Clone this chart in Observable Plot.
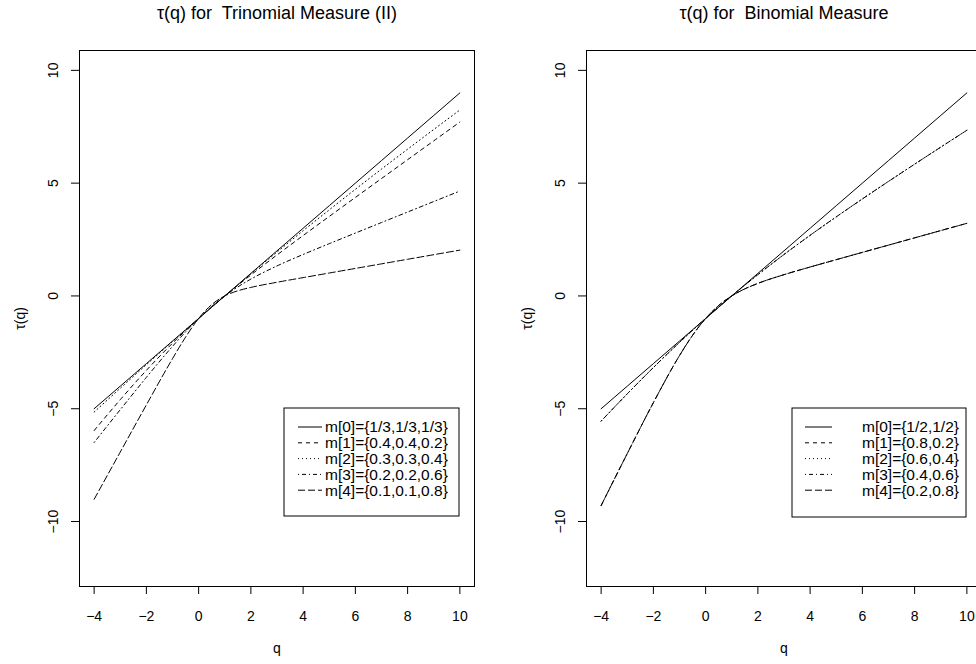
<!DOCTYPE html>
<html><head><meta charset="utf-8">
<script src="https://cdn.jsdelivr.net/npm/d3@7"></script>
<script src="https://cdn.jsdelivr.net/npm/@observablehq/plot@0.6"></script>
<style>
body{margin:0;background:#fff;overflow:hidden;}
#chart{position:relative;width:976px;height:664px;overflow:hidden;background:#fff;}
#chart svg{position:absolute;top:0;}
</style></head><body><div id="chart"></div>
<script>
// q grid
const q = [-4,-3,-2,-1,-0.5,0,0.5,1,1.5,2,3,4,5,6,7,8,9,10];

// Trinomial measure (II)
const tri0 = [-5,-4,-3,-2,-1.5,-1,-0.5,0,0.5,1,2,3,4,5,6,7,8,9];
const tri1 = [-5.967,-4.598,-3.299,-2.096,-1.535,-1,-0.490,0,0.472,0.930,1.816,2.677,3.525,4.366,5.204,6.040,6.875,7.709];
const tri2 = [-5.148,-4.093,-3.048,-2.017,-1.506,-1,-0.498,0,0.493,0.982,1.945,2.890,3.817,4.727,5.623,6.506,7.379,8.243];
const tri3 = [-6.496,-5.043,-3.610,-2.236,-1.594,-1,-0.466,0,0.401,0.747,1.330,1.838,2.317,2.787,3.254,3.720,4.185,4.650];
const tri4 = [-9.015,-6.920,-4.830,-2.782,-1.827,-1,-0.385,0,0.228,0.378,0.606,0.812,1.016,1.219,1.422,1.625,1.828,2.031];
const triNames = ["m[0]={1/3,1/3,1/3}","m[1]={0.4,0.4,0.2}","m[2]={0.3,0.3,0.4}","m[3]={0.2,0.2,0.6}","m[4]={0.1,0.1,0.8}"];

// Binomial measure
const bin0 = [-5,-4,-3,-2,-1.5,-1,-0.5,0,0.5,1,2,3,4,5,6,7,8,9];
const bin1 = [-9.293,-6.988,-4.731,-2.644,-1.746,-1,-0.424,0,0.313,0.556,0.943,1.282,1.608,1.931,2.253,2.575,2.897,3.219];
const bin2 = [-5.548,-4.340,-3.174,-2.059,-1.522,-1,-0.493,0,0.479,0.943,1.837,2.688,3.506,4.300,5.077,5.841,6.596,7.345];
const bin3 = [-5.548,-4.340,-3.174,-2.059,-1.522,-1,-0.493,0,0.479,0.943,1.837,2.688,3.506,4.300,5.077,5.841,6.596,7.345];
const bin4 = [-9.293,-6.988,-4.731,-2.644,-1.746,-1,-0.424,0,0.313,0.556,0.943,1.282,1.608,1.931,2.253,2.575,2.897,3.219];
const binNames = ["m[0]={1/2,1/2}","m[1]={0.8,0.2}","m[2]={0.6,0.4}","m[3]={0.4,0.6}","m[4]={0.2,0.8}"];

const titles = ["\u03c4(q) for  Trinomial Measure (II)", "\u03c4(q) for  Binomial Measure"];
const xTicks = [-4,-2,0,2,4,6,8,10];
const yTicks = [-10,-5,0,5,10];
const xLabel = "q";
const yLabel = "\u03c4(q)";

const dashes = ["none","4,4","1,3","1,3,4,3","7,3"];
const FONT = "'Liberation Sans', Arial, Helvetica, sans-serif";
const fmt = d => d < 0 ? "\u2212" + (-d) : String(d);

function panel({title, series, names, width, left, marginLeft, marginRight, legend}) {
  const H = 664, MT = 50, MB = 78;
  const marks = [
    Plot.frame({stroke: "black", strokeWidth: 1}),
    Plot.axisX({ticks: xTicks, tickSize: 8, tickPadding: 17, tickFormat: fmt, label: null, fontSize: 14}),
    Plot.axisY({ticks: yTicks, tickSize: 8, tickFormat: () => "", label: null}),
    Plot.text(yTicks, {y: d => d, frameAnchor: "left", dx: -26, rotate: -90, text: d => fmt(d),
      fontSize: 14, textAnchor: "middle", lineAnchor: "middle"}),
    ...series.map((vals, k) => Plot.line(q.map((x, i) => ({q: x, tau: vals[i]})), {
      x: "q", y: "tau", stroke: "black", strokeWidth: 1,
      strokeDasharray: dashes[k], curve: "monotone-x"
    })),
    Plot.text([title], {frameAnchor: "top", dy: -37, fontSize: 18, textAnchor: "middle", lineAnchor: "middle"}),
    Plot.text([xLabel], {frameAnchor: "bottom", dy: 62, fontSize: 14, textAnchor: "middle", lineAnchor: "middle"}),
    Plot.text([yLabel], {frameAnchor: "left", dx: -59, rotate: -90, fontSize: 14, textAnchor: "middle", lineAnchor: "middle"})
  ];
  const svg = Plot.plot({
    width, height: H, marginLeft, marginRight, marginTop: MT, marginBottom: MB,
    x: {domain: [-4.56, 10.56]},
    y: {domain: [-12.88, 10.88]},
    style: {fontFamily: FONT, fontSize: "14px", color: "black", background: "transparent", overflow: "visible"},
    marks
  });
  svg.style.left = left + "px";
  // legend
  const g = d3.select(svg).append("g").attr("font-family", FONT).attr("font-size", 15.5).attr("text-anchor", "start");
  g.append("rect").attr("x", legend.x).attr("y", legend.y).attr("width", legend.w).attr("height", legend.h)
    .attr("fill", "white").attr("stroke", "black");
  names.forEach((n, k) => {
    const y = legend.y + 19 + k * 15.8;
    g.append("line").attr("x1", legend.s1).attr("x2", legend.s2).attr("y1", y).attr("y2", y)
      .attr("stroke", "black").attr("stroke-dasharray", dashes[k]);
    g.append("text").attr("x", legend.tx).attr("y", y).attr("dy", "0.35em").attr("text-anchor", "start").text(n);
  });
  return svg;
}

const chart = document.getElementById("chart");
chart.appendChild(panel({
  title: titles[0], series: [tri0, tri1, tri2, tri3, tri4], names: triNames,
  width: 488, left: 0, marginLeft: 79, marginRight: 14,
  legend: {x: 284, y: 408, w: 175, h: 108, s1: 298, s2: 322, tx: 325}
}));
chart.appendChild(panel({
  title: titles[1], series: [bin0, bin1, bin2, bin3, bin4], names: binNames,
  width: 500, left: 488, marginLeft: 98, marginRight: 7,
  legend: {x: 304, y: 408, w: 174, h: 109, s1: 317, s2: 344, tx: 374}
}));
</script></body></html>
